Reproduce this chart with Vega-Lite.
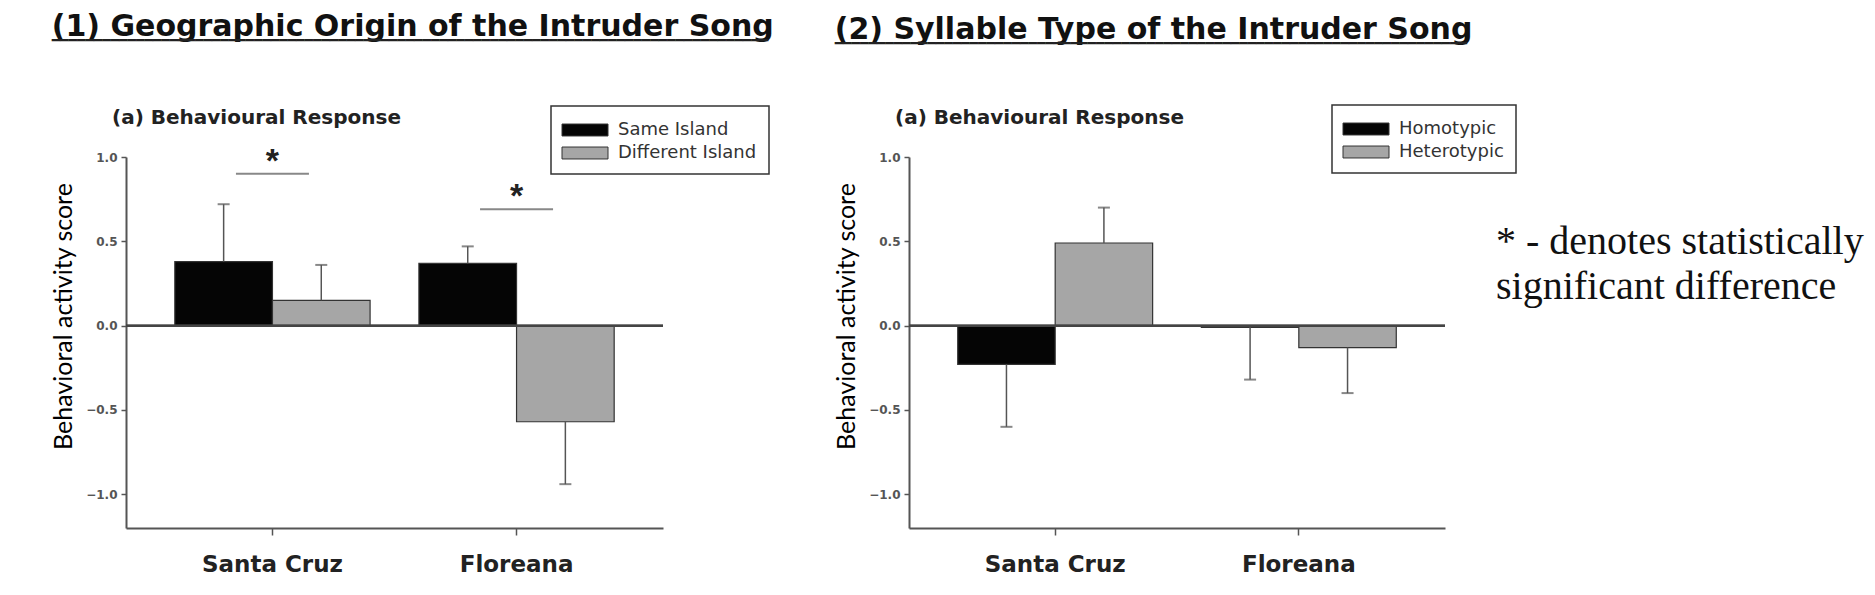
{
  "$schema": "https://vega.github.io/schema/vega-lite/v6.json",
  "background": "white",
  "padding": {"left": 51, "top": 12, "right": 0, "bottom": 0},
  "datasets": {
    "geo": [
      {"site": "Santa Cruz", "group": "Same Island", "mean": 0.38, "errEnd": 0.72},
      {"site": "Santa Cruz", "group": "Different Island", "mean": 0.15, "errEnd": 0.36},
      {"site": "Floreana", "group": "Same Island", "mean": 0.37, "errEnd": 0.47},
      {"site": "Floreana", "group": "Different Island", "mean": -0.57, "errEnd": -0.94}
    ],
    "geoSig": [
      {"site": "Santa Cruz", "y": 0.9, "mark": "*"},
      {"site": "Floreana", "y": 0.69, "mark": "*"}
    ],
    "syl": [
      {"site": "Santa Cruz", "group": "Homotypic", "mean": -0.23, "errEnd": -0.6},
      {"site": "Santa Cruz", "group": "Heterotypic", "mean": 0.49, "errEnd": 0.7},
      {"site": "Floreana", "group": "Homotypic", "mean": -0.01, "errEnd": -0.32},
      {"site": "Floreana", "group": "Heterotypic", "mean": -0.13, "errEnd": -0.4}
    ],
    "note": [
      {"line": "* - denotes statistically", "row": 1},
      {"line": "significant difference", "row": 2}
    ]
  },
  "spacing": 60,
  "hconcat": [
    {
      "title": {
        "text": "(1) Geographic Origin of the Intruder Song",
        "subtitle": "━━━━━━━━━━━━━━━━━━━━━━━━━━━━━━━━━━━━━━━━━━━━━━━━━━━━━━━━━━━━━━━━━━━━━━━━━━━━━━━━━━━━━"
      },
      "vconcat": [
        {
          "title": {"text": "(a) Behavioural Response", "font": "DejaVu Sans", "fontSize": 20, "fontWeight": "bold", "color": "#222", "frame": "group", "dx": -14, "offset": 17, "subtitle": ""},
          "width": 537,
          "height": 371,
          "data": {"name": "geo"},
          "layer": [
            {
              "mark": {"type": "bar", "stroke": "#333", "strokeWidth": 1.2},
              "encoding": {
                "x": {"field": "site", "type": "nominal", "sort": ["Santa Cruz", "Floreana"]},
                "xOffset": {"field": "group", "sort": ["Same Island", "Different Island"]},
                "y": {
                  "field": "mean",
                  "type": "quantitative",
                  "scale": {"domain": [-1.2, 1], "nice": false, "zero": false},
                  "axis": {"values": [-1, -0.5, 0, 0.5, 1], "format": ".1f", "title": "Behavioral activity score"}
                },
                "color": {
                  "field": "group",
                  "type": "nominal",
                  "scale": {"domain": ["Same Island", "Different Island"], "range": ["#050505", "#a6a6a6"]},
                  "legend": {"legendX": 425, "legendY": -51}
                }
              }
            },
            {
              "mark": {"type": "rule", "color": "#555", "strokeWidth": 1.5},
              "encoding": {
                "x": {"field": "site", "type": "nominal", "sort": ["Santa Cruz", "Floreana"]},
                "xOffset": {"field": "group", "sort": ["Same Island", "Different Island"]},
                "y": {"field": "mean", "type": "quantitative"},
                "y2": {"field": "errEnd"}
              }
            },
            {
              "mark": {"type": "tick", "color": "#555", "thickness": 2, "size": 12},
              "encoding": {
                "x": {"field": "site", "type": "nominal", "sort": ["Santa Cruz", "Floreana"]},
                "xOffset": {"field": "group", "sort": ["Same Island", "Different Island"]},
                "y": {"field": "errEnd", "type": "quantitative"}
              }
            },
            {
              "mark": {"type": "rule", "color": "#444", "strokeWidth": 2},
              "encoding": {"y": {"datum": 0}}
            },
            {
              "data": {"name": "geoSig"},
              "mark": {"type": "tick", "color": "#555", "thickness": 2, "size": 73},
              "encoding": {
                "x": {"field": "site", "type": "nominal", "sort": ["Santa Cruz", "Floreana"]},
                "y": {"field": "y", "type": "quantitative"}
              }
            },
            {
              "data": {"name": "geoSig"},
              "mark": {"type": "text", "font": "Liberation Sans", "fontWeight": "bold", "fontSize": 34, "baseline": "alphabetic", "dy": -2, "color": "#222"},
              "encoding": {
                "x": {"field": "site", "type": "nominal", "sort": ["Santa Cruz", "Floreana"]},
                "y": {"field": "y", "type": "quantitative"},
                "text": {"field": "mark"}
              }
            }
          ]
        }
      ]
    },
    {
      "spacing": 23,
      "hconcat": [
        {
          "title": {
            "text": "(2) Syllable Type of the Intruder Song",
            "subtitle": "━━━━━━━━━━━━━━━━━━━━━━━━━━━━━━━━━━━━━━━━━━━━━━━━━━━━━━━━━━━━━━━━━━━━━━━━━━━"
          },
          "vconcat": [
            {
              "title": {"text": "(a) Behavioural Response", "font": "DejaVu Sans", "fontSize": 20, "fontWeight": "bold", "color": "#222", "frame": "group", "dx": -14, "offset": 23, "subtitle": ""},
              "width": 536,
              "height": 371,
              "data": {"name": "syl"},
              "layer": [
                {
                  "mark": {"type": "bar", "stroke": "#333", "strokeWidth": 1.2},
                  "encoding": {
                    "x": {"field": "site", "type": "nominal", "sort": ["Santa Cruz", "Floreana"]},
                    "xOffset": {"field": "group", "sort": ["Homotypic", "Heterotypic"]},
                    "y": {
                      "field": "mean",
                      "type": "quantitative",
                      "scale": {"domain": [-1.2, 1], "nice": false, "zero": false},
                      "axis": {"values": [-1, -0.5, 0, 0.5, 1], "format": ".1f", "title": "Behavioral activity score"}
                    },
                    "color": {
                      "field": "group",
                      "type": "nominal",
                      "scale": {"domain": ["Homotypic", "Heterotypic"], "range": ["#050505", "#a6a6a6"]},
                      "legend": {"legendX": 423, "legendY": -52}
                    }
                  }
                },
                {
                  "mark": {"type": "rule", "color": "#555", "strokeWidth": 1.5},
                  "encoding": {
                    "x": {"field": "site", "type": "nominal", "sort": ["Santa Cruz", "Floreana"]},
                    "xOffset": {"field": "group", "sort": ["Homotypic", "Heterotypic"]},
                    "y": {"field": "mean", "type": "quantitative"},
                    "y2": {"field": "errEnd"}
                  }
                },
                {
                  "mark": {"type": "tick", "color": "#555", "thickness": 2, "size": 12},
                  "encoding": {
                    "x": {"field": "site", "type": "nominal", "sort": ["Santa Cruz", "Floreana"]},
                    "xOffset": {"field": "group", "sort": ["Homotypic", "Heterotypic"]},
                    "y": {"field": "errEnd", "type": "quantitative"}
                  }
                },
                {
                  "mark": {"type": "rule", "color": "#444", "strokeWidth": 2},
                  "encoding": {"y": {"datum": 0}}
                }
              ]
            }
          ]
        },
        {
          "width": 380,
          "height": 371,
          "data": {"name": "note"},
          "mark": {"type": "text", "align": "left", "baseline": "alphabetic", "font": "Liberation Serif", "fontSize": 40, "color": "#111"},
          "encoding": {
            "x": {"datum": 0, "type": "quantitative", "scale": {"domain": [0, 1]}, "axis": null},
            "y": {"field": "row", "type": "quantitative", "scale": {"domain": [-1.156, 7.089], "reverse": true, "zero": false, "nice": false}, "axis": null},
            "text": {"field": "line"}
          }
        }
      ]
    }
  ],
  "resolve": {
    "scale": {"color": "independent", "x": "independent", "y": "independent", "xOffset": "independent"},
    "legend": {"color": "independent"}
  },
  "config": {
    "view": {"stroke": null},
    "title": {
      "anchor": "start",
      "font": "DejaVu Sans",
      "fontSize": 30,
      "fontWeight": "bold",
      "color": "#111",
      "subtitleFont": "DejaVu Sans Mono",
      "subtitleFontSize": 14,
      "subtitleColor": "#222",
      "subtitlePadding": -8,
      "offset": 57
    },
    "scale": {"bandPaddingInner": 0.4, "bandPaddingOuter": 0.3, "offsetBandPaddingInner": 0},
    "axisX": {
      "title": null,
      "labelAngle": 0,
      "labelFont": "DejaVu Sans",
      "labelFontWeight": "bold",
      "labelFontSize": 23,
      "labelColor": "#222",
      "labelPadding": 18,
      "tickSize": 7,
      "tickColor": "#555",
      "tickWidth": 1.5,
      "domainColor": "#555",
      "domainWidth": 2
    },
    "axisY": {
      "grid": false,
      "tickSize": 5,
      "tickColor": "#555",
      "tickWidth": 1.5,
      "domainColor": "#555",
      "domainWidth": 2,
      "labelFont": "DejaVu Sans",
      "labelFontWeight": "bold",
      "labelFontSize": 12,
      "labelColor": "#555",
      "labelPadding": 4,
      "titleFont": "Lato",
      "titleFontSize": 25,
      "titleFontWeight": "normal",
      "titleColor": "#000",
      "titlePadding": 9,
      "titleY": 159
    },
    "legend": {
      "orient": "none",
      "title": null,
      "strokeColor": "#333",
      "strokeWidth": 1.5,
      "fillColor": "white",
      "padding": 12,
      "symbolType": "M-2,-0.52H2V0.52H-2Z",
      "symbolSize": 529,
      "symbolOffset": 10,
      "symbolStrokeColor": "#333",
      "symbolStrokeWidth": 1,
      "symbolOpacity": 1,
      "labelFont": "DejaVu Sans",
      "labelFontSize": 18,
      "labelColor": "#333",
      "labelOffset": 21,
      "rowPadding": 2
    }
  }
}
